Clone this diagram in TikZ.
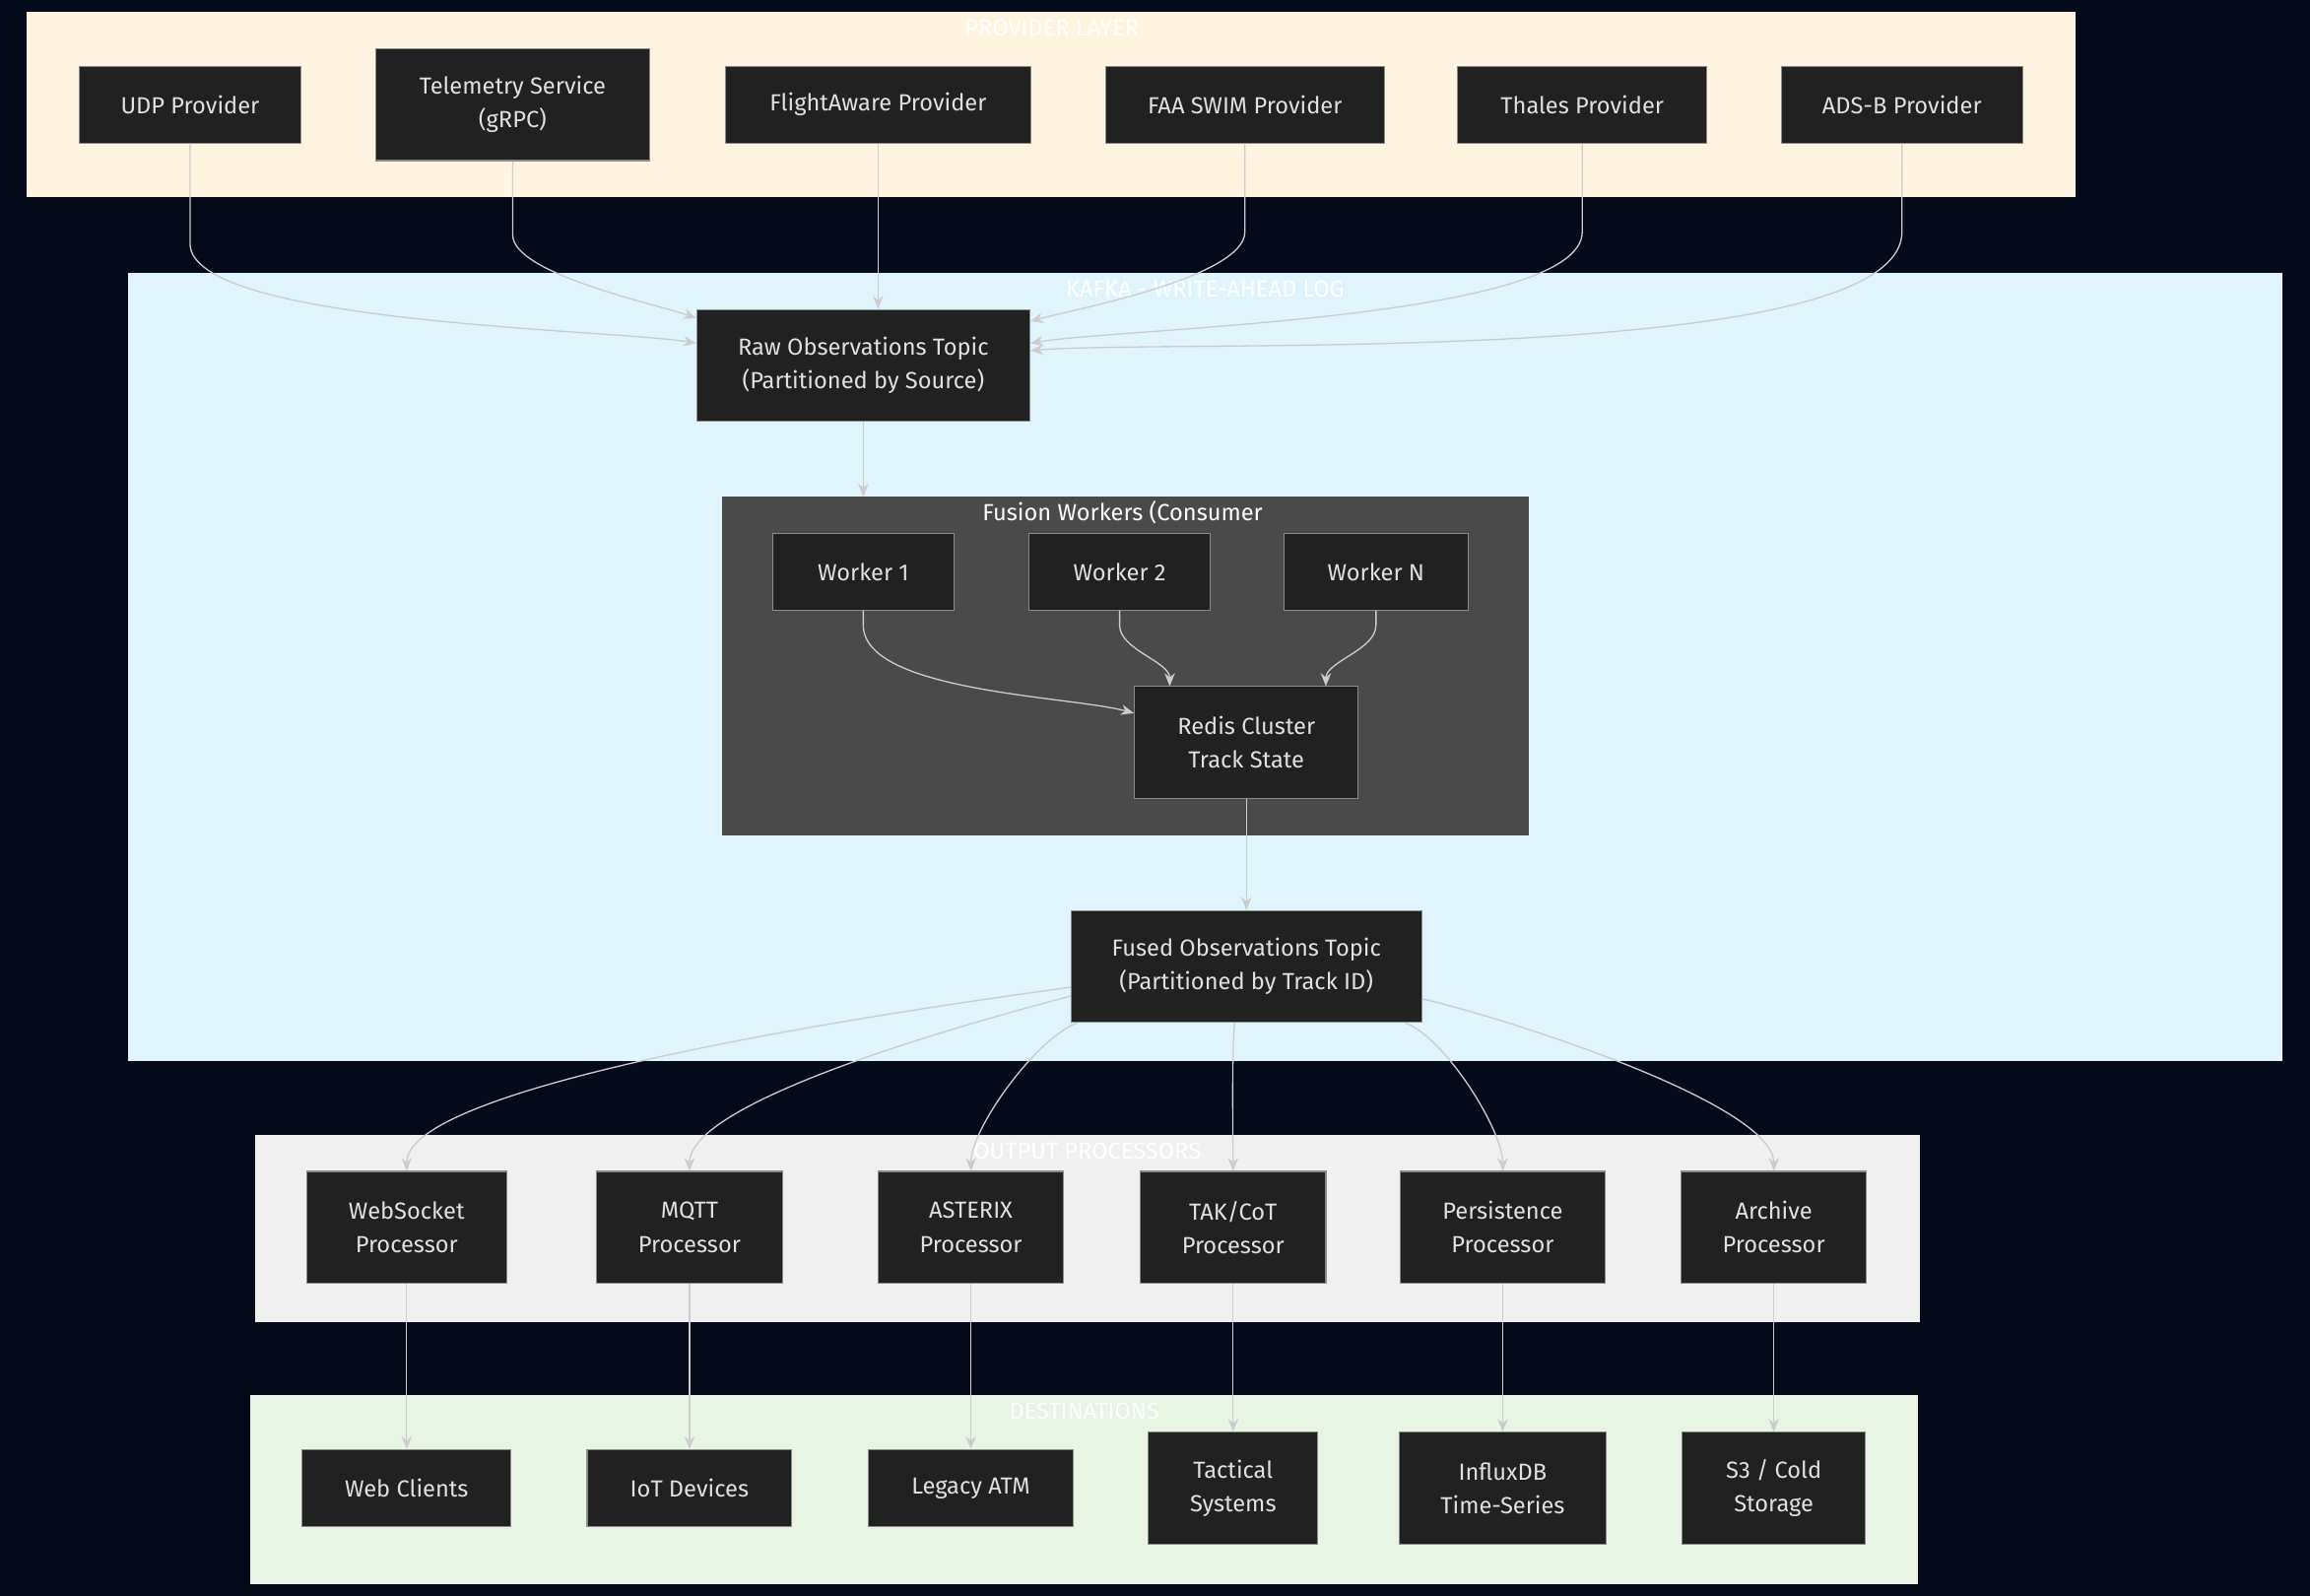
\documentclass[tikz,border=0pt]{standalone}
\usepackage{fontspec}
\setmainfont{Fira Sans}
\usetikzlibrary{calc,arrows.meta}
\definecolor{bgdark}{HTML}{050A1A}
\definecolor{boxfill}{HTML}{212121}
\definecolor{boxline}{HTML}{8A8A8A}
\definecolor{edgecol}{HTML}{CCCCCC}
\definecolor{provfill}{HTML}{FFF4E0}
\definecolor{kafkafill}{HTML}{E0F4FC}
\definecolor{fusefill}{HTML}{4A4A4A}
\definecolor{outfill}{HTML}{F0F0F0}
\definecolor{destfill}{HTML}{E8F4E4}
\begin{document}
\begin{tikzpicture}
  [x=0.02cm, y=-0.02cm,
   font=\fontsize{9}{13}\selectfont,
   box/.style={draw=boxline,fill=boxfill,text=black!12,align=center,inner sep=0pt,minimum height=1.04cm},
   tall/.style={box,minimum height=1.52cm},
   cluster/.style={draw=none},
   lbl/.style={text=white,font=\fontsize{9}{11}\selectfont},
   edge/.style={draw=edgecol,line width=0.5pt,-{Stealth[length=5pt,width=4pt]}}]
  \fill[bgdark] (0,0) rectangle (1568,1083);
  \useasboundingbox (0,0) rectangle (1568,1083);
  % clusters
  \fill[provfill] (18,8) rectangle (1409,134);
  \fill[kafkafill] (87,185) rectangle (1549,720);
  \fill[fusefill] (490,337) rectangle (1038,567);
  \fill[outfill] (173,770) rectangle (1303,897);
  \fill[destfill] (170,947) rectangle (1302,1075);
  \node (lprov) [lbl] at (714,19) {PROVIDER LAYER};
  \node (lkafka) [lbl] at (818,196) {KAFKA - WRITE-AHEAD LOG};
  \node (lfuse) [lbl] at (762,348) {Fusion Workers (Consumer};
  \node (lout) [lbl] at (738,781) {OUTPUT PROCESSORS};
  \node (ldest) [lbl] at (736,958) {DESTINATIONS};
  % providers
  \node (udp) [box,minimum width=3.02cm] at (129,71) {UDP Provider};
  \node (tele) [tall,minimum width=3.72cm] at (348,71) {Telemetry Service\\(gRPC)};
  \node (fa) [box,minimum width=4.14cm] at (596,71) {FlightAware Provider};
  \node (faa) [box,minimum width=3.78cm] at (845,71) {FAA SWIM Provider};
  \node (thales) [box,minimum width=3.38cm] at (1074,71) {Thales Provider};
  \node (adsb) [box,minimum width=3.28cm] at (1291,71) {ADS-B Provider};
  % kafka
  \node (raw) [tall,minimum width=4.52cm] at (586,248) {Raw Observations Topic\\(Partitioned by Source)};
  \node (w1) [box,minimum width=2.46cm] at (586,388) {Worker 1};
  \node (w2) [box,minimum width=2.46cm] at (760,388) {Worker 2};
  \node (wn) [box,minimum width=2.5cm] at (934,388) {Worker N};
  \node (redis) [tall,minimum width=3.04cm] at (846,504) {Redis Cluster\\Track State};
  \node (fused) [tall,minimum width=4.76cm] at (846,656) {Fused Observations Topic\\(Partitioned by Track ID)};
  % processors
  \node (ws) [tall,minimum width=2.72cm] at (276,833) {WebSocket\\Processor};
  \node (mqtt) [tall,minimum width=2.52cm] at (468,833) {MQTT\\Processor};
  \node (asx) [tall,minimum width=2.52cm] at (659,833) {ASTERIX\\Processor};
  \node (tak) [tall,minimum width=2.52cm] at (837,833) {TAK/CoT\\Processor};
  \node (pers) [tall,minimum width=2.78cm] at (1020,833) {Persistence\\Processor};
  \node (arch) [tall,minimum width=2.52cm] at (1204,833) {Archive\\Processor};
  % destinations
  \node (web) [box,minimum width=2.84cm] at (276,1010) {Web Clients};
  \node (iot) [box,minimum width=2.78cm] at (468,1010) {IoT Devices};
  \node (atm) [box,minimum width=2.78cm] at (659,1010) {Legacy ATM};
  \node (tac) [tall,minimum width=2.3cm] at (837,1010) {Tactical\\Systems};
  \node (influx) [tall,minimum width=2.82cm] at (1020,1010) {InfluxDB\\Time-Series};
  \node (s3) [tall,minimum width=2.48cm] at (1204,1010) {S3 / Cold\\Storage};
  % providers to raw topic
  \draw[edge] (udp.south) -- ++(0,68) to[out=-90,in=170,looseness=0.4] ($(raw.west)+(0,-15)$);
  \draw[edge] (tele.south) -- ++(0,50) to[out=-90,in=160,looseness=0.5] ($(raw.west)+(0,-32)$);
  \draw[edge] (fa.south) -- ($(raw.north)+(10,0)$);
  \draw[edge] (faa.south) -- ++(0,60) to[out=-90,in=15,looseness=0.5] ($(raw.east)+(0,-30)$);
  \draw[edge] (thales.south) -- ++(0,60) to[out=-90,in=10,looseness=0.4] ($(raw.east)+(0,-15)$);
  \draw[edge] (adsb.south) -- ++(0,60) to[out=-90,in=5,looseness=0.4] ($(raw.east)+(0,-10)$);
  \draw[edge] (raw) -- (raw |- 0,337);
  % workers to redis
  \draw[edge] (w1.south) -- ++(0,10) to[out=-90,in=165,looseness=0.6] ($(redis.west)+(0,-20)$);
  \draw[edge] (w2.south) -- ++(0,10) to[out=-90,in=90,looseness=0.8] ($(redis.north)+(-52,0)$);
  \draw[edge] (wn.south) -- ++(0,10) to[out=-90,in=90,looseness=0.8] ($(redis.north)+(54,0)$);
  \draw[edge] (redis) -- (fused);
  % fused topic to processors
  \draw[edge] ($(fused.west)+(0,14)$) to[out=188,in=90,looseness=0.35] (ws.north);
  \draw[edge] ($(fused.west)+(0,20)$) to[out=195,in=90,looseness=0.45] (mqtt.north);
  \draw[edge] ($(fused.south)+(-115,0)$) to[out=200,in=90,looseness=0.6] (asx.north);
  \draw[edge] ($(fused.south)+(-8,0)$) to[out=-95,in=90,looseness=0.6] (tak.north);
  \draw[edge] ($(fused.south)+(108,0)$) to[out=-20,in=90,looseness=0.6] (pers.north);
  \draw[edge] ($(fused.east)+(0,22)$) to[out=-12,in=90,looseness=0.45] (arch.north);
  % processors to destinations
  \draw[edge] (ws) -- (web);
  \draw[edge] (mqtt) -- (iot);
  \draw[edge] (asx) -- (atm);
  \draw[edge] (tak) -- (tac);
  \draw[edge] (pers) -- (influx);
  \draw[edge] (arch) -- (s3);
\end{tikzpicture}
\end{document}
